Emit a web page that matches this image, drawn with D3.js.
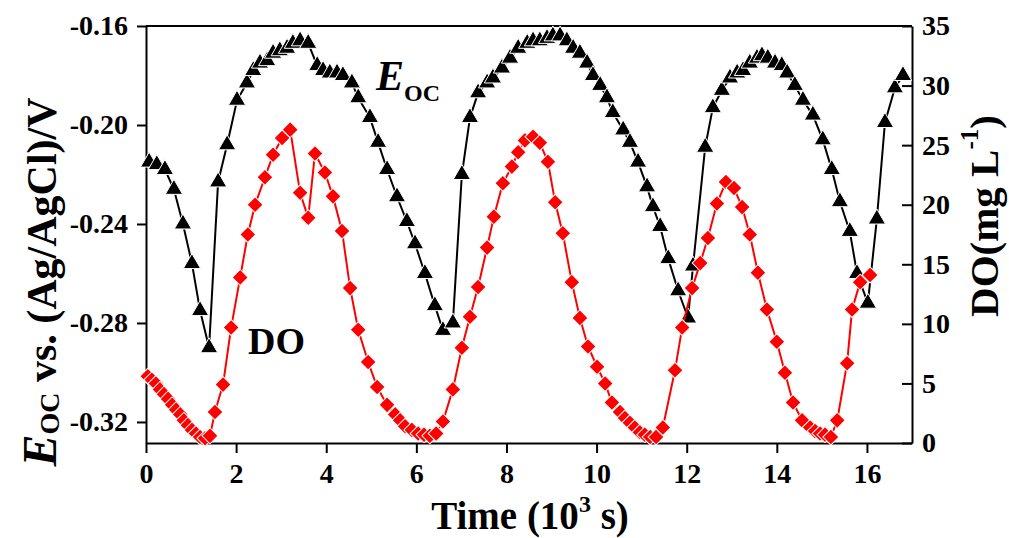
<!DOCTYPE html>
<html>
<head>
<meta charset="utf-8">
<script src="https://cdn.jsdelivr.net/npm/d3@7"></script>
<style>
  body { margin: 0; background: #fff; }
  .chart text { font-family: 'Liberation Serif', 'Times New Roman', serif; font-weight: bold; fill: #000; }
</style>
</head>
<body>
<div class="chart"></div>
<script>
// time in 10^3 s, E_OC in V vs Ag/AgCl
const timeEoc = [0.07,0.24,0.42,0.62,0.82,1.02,1.20,1.40,
  1.60,1.80,2.02,2.24,2.38,2.53,2.69,2.82,2.97,3.13,3.26,3.42,3.60,3.80,3.93,4.08,4.24,4.37,4.57,4.71,4.97,5.15,5.35,5.57,5.79,5.97,6.19,6.41,6.59,6.81,
  7.01,7.19,7.37,7.57,7.70,7.90,8.08,8.26,8.46,8.59,8.74,8.90,9.03,9.19,9.34,9.48,9.63,9.79,9.92,10.08,10.23,10.36,10.59,10.74,10.92,11.12,11.25,11.41,11.59,11.81,12.03,
  12.14,12.41,12.58,12.78,12.96,13.12,13.25,13.40,13.56,13.67,13.80,13.96,14.11,14.23,14.40,14.58,14.80,15.02,15.22,15.40,15.62,15.78,16.02,
  16.22,16.40,16.62,16.80];
const eocValues = [-0.215,-0.216,-0.218,-0.226,-0.240,-0.256,-0.275,-0.290,
  -0.223,-0.208,-0.190,-0.183,-0.178,-0.175,-0.174,-0.171,-0.170,-0.169,-0.167,-0.166,-0.167,-0.176,-0.178,-0.179,-0.179,-0.180,-0.183,-0.189,-0.197,-0.207,-0.218,-0.229,-0.239,-0.248,-0.260,-0.273,-0.283,-0.280,
  -0.220,-0.197,-0.187,-0.183,-0.181,-0.177,-0.173,-0.169,-0.167,-0.166,-0.166,-0.165,-0.164,-0.164,-0.166,-0.169,-0.171,-0.175,-0.180,-0.184,-0.189,-0.195,-0.202,-0.207,-0.215,-0.225,-0.233,-0.241,-0.254,-0.267,-0.278,
  -0.257,-0.209,-0.193,-0.186,-0.181,-0.179,-0.178,-0.175,-0.173,-0.172,-0.173,-0.175,-0.176,-0.179,-0.184,-0.190,-0.196,-0.206,-0.218,-0.231,-0.243,-0.260,-0.272,
  -0.238,-0.199,-0.185,-0.180];

// dissolved oxygen, mg/L
const timeDO = [0.04,0.13,0.22,0.31,0.40,0.49,0.58,0.67,0.76,0.84,0.93,1.02,1.11,1.20,1.31,1.42,
  1.53,1.71,1.89,2.09,2.26,2.42,2.64,2.82,3.02,3.20,3.42,3.60,3.75,3.97,4.15,4.35,4.53,4.71,4.93,5.13,5.35,5.53,5.64,5.75,5.90,6.04,6.17,6.30,6.44,6.59,
  6.81,7.01,7.19,7.37,7.57,7.72,7.92,8.12,8.26,8.41,8.59,8.74,8.92,9.08,9.25,9.45,9.63,9.81,10.01,10.19,10.34,10.52,10.63,10.74,10.85,10.96,11.07,11.19,11.32,11.47,
  11.74,11.90,12.12,12.30,12.47,12.67,12.87,13.05,13.23,13.40,13.58,13.78,14.00,14.18,14.36,14.56,14.74,14.85,14.96,15.07,15.20,15.34,15.56,15.67,15.85,16.07];
const doValues = [5.6,5.3,5.0,4.5,4.1,3.7,3.2,2.8,2.4,1.9,1.5,1.1,0.8,0.5,0.4,0.6,
  2.6,4.9,9.7,13.9,17.5,20.0,22.3,24.2,25.6,26.3,21.0,18.9,24.3,22.7,20.7,17.8,13.0,9.5,6.8,4.7,3.2,2.4,1.9,1.4,1.1,0.8,0.7,0.6,0.8,1.8,
  4.5,8.0,10.6,13.1,16.4,19.0,21.8,23.2,24.4,25.4,25.7,25.2,23.6,20.2,17.6,13.5,10.5,8.1,6.4,5.0,3.4,2.6,2.1,1.7,1.3,0.9,0.7,0.5,0.5,1.3,
  6.1,9.7,13.0,15.1,17.2,20.1,21.9,21.4,19.8,17.5,14.3,11.2,8.5,5.9,3.4,1.9,1.3,1.0,0.8,0.7,0.5,1.9,6.7,11.2,13.5,14.1];

const timeTicks = [0, 2, 4, 6, 8, 10, 12, 14, 16];
const eocTicks = [-0.32, -0.28, -0.24, -0.20, -0.16];
const doTicks = [0, 5, 10, 15, 20, 25, 30, 35];

const width = 1009;
const height = 538;
const plotLeft = 146, plotRight = 912, plotTop = 26, plotBottom = 443;

const xScale = d3.scaleLinear().domain([0, 17]).range([plotLeft, plotRight]);
const yLeft = d3.scaleLinear().domain([-0.3285, -0.16]).range([plotBottom, plotTop]);
const yRight = d3.scaleLinear().domain([0, 35]).range([plotBottom, plotTop]);

const svg = d3.select('.chart')
  .append('svg')
  .attr('width', width)
  .attr('height', height);

// frame top line
svg.append('line')
  .attr('x1', plotLeft).attr('x2', plotRight)
  .attr('y1', plotTop).attr('y2', plotTop)
  .attr('stroke', '#000').attr('stroke-width', 2);

// X axis
const xAxis = svg.append('g')
  .attr('transform', `translate(0, ${plotBottom})`)
  .call(d3.axisBottom(xScale).tickValues(timeTicks).tickSizeInner(10).tickSizeOuter(0).tickPadding(10));

// left axis
const lAxis = svg.append('g')
  .attr('transform', `translate(${plotLeft}, 0)`)
  .call(d3.axisLeft(yLeft).tickValues(eocTicks).tickFormat(d => d.toFixed(2))
    .tickSizeInner(9).tickSizeOuter(0).tickPadding(9));

// right axis, ticks pointing inward
const rAxis = svg.append('g')
  .attr('transform', `translate(${plotRight}, 0)`)
  .call(d3.axisRight(yRight).tickValues(doTicks).tickSizeInner(-10).tickSizeOuter(0).tickPadding(10));

[xAxis, lAxis, rAxis].forEach(g => {
  g.selectAll('path, line').attr('stroke', '#000').attr('stroke-width', 2);
  g.selectAll('text').style('font-size', '28px');
});

// E_OC series
const eocData = timeEoc.map((t, i) => [t, eocValues[i]]);
svg.append('path')
  .attr('fill', 'none')
  .attr('stroke', '#000')
  .attr('stroke-width', 2)
  .attr('d', d3.line().x(d => xScale(d[0])).y(d => yLeft(d[1]))(eocData));
svg.append('g').selectAll('path')
  .data(eocData).join('path')
  .attr('transform', d => `translate(${xScale(d[0])}, ${yLeft(d[1])})`)
  .attr('d', d3.symbol(d3.symbolTriangle, 130))
  .attr('fill', '#000')
  .attr('stroke', '#fff')
  .attr('stroke-width', 1);

// DO series
const doData = timeDO.map((t, i) => [t, doValues[i]]);
svg.append('path')
  .attr('fill', 'none')
  .attr('stroke', '#ff0000')
  .attr('stroke-width', 2)
  .attr('d', d3.line().x(d => xScale(d[0])).y(d => yRight(d[1]))(doData));
svg.append('g').selectAll('path')
  .data(doData).join('path')
  .attr('transform', d => `translate(${xScale(d[0])}, ${yRight(d[1])}) rotate(45)`)
  .attr('d', d3.symbol(d3.symbolSquare, 128))
  .attr('fill', '#ff0000')
  .attr('stroke', '#fff')
  .attr('stroke-width', 1);

// series labels
const eLabel = svg.append('text').attr('x', 376).attr('y', 90);
eLabel.append('tspan').text('E').style('font-style', 'italic').style('font-size', '42px');
eLabel.append('tspan').text('OC').attr('dy', 11).style('font-size', '24px');

svg.append('text')
  .attr('x', 248).attr('y', 354)
  .style('font-size', '38px')
  .text('DO');

// axis titles
const xTitle = svg.append('text')
  .attr('x', 530).attr('y', 529)
  .attr('text-anchor', 'middle')
  .style('font-size', '39px');
xTitle.append('tspan').text('Time (10');
xTitle.append('tspan').text('3').attr('dy', -17).style('font-size', '24px');
xTitle.append('tspan').text(' s)').attr('dy', 17);

const lTitle = svg.append('text')
  .attr('transform', 'translate(56, 282) rotate(-90)')
  .attr('text-anchor', 'middle')
  .style('font-size', '42px');
lTitle.append('tspan').text('E').style('font-style', 'italic').style('font-size', '48px');
lTitle.append('tspan').text('OC').attr('dy', 3).style('font-size', '28px');
lTitle.append('tspan').text(' vs. (Ag/AgCl)/V').attr('dy', -3);

const rTitle = svg.append('text')
  .attr('transform', 'translate(998, 216) rotate(-90)')
  .attr('text-anchor', 'middle')
  .style('font-size', '41px');
rTitle.append('tspan').text('DO(mg L');
rTitle.append('tspan').text('-1').attr('dy', -20).style('font-size', '25px');
rTitle.append('tspan').text(')').attr('dy', 20);
</script>
</body>
</html>
